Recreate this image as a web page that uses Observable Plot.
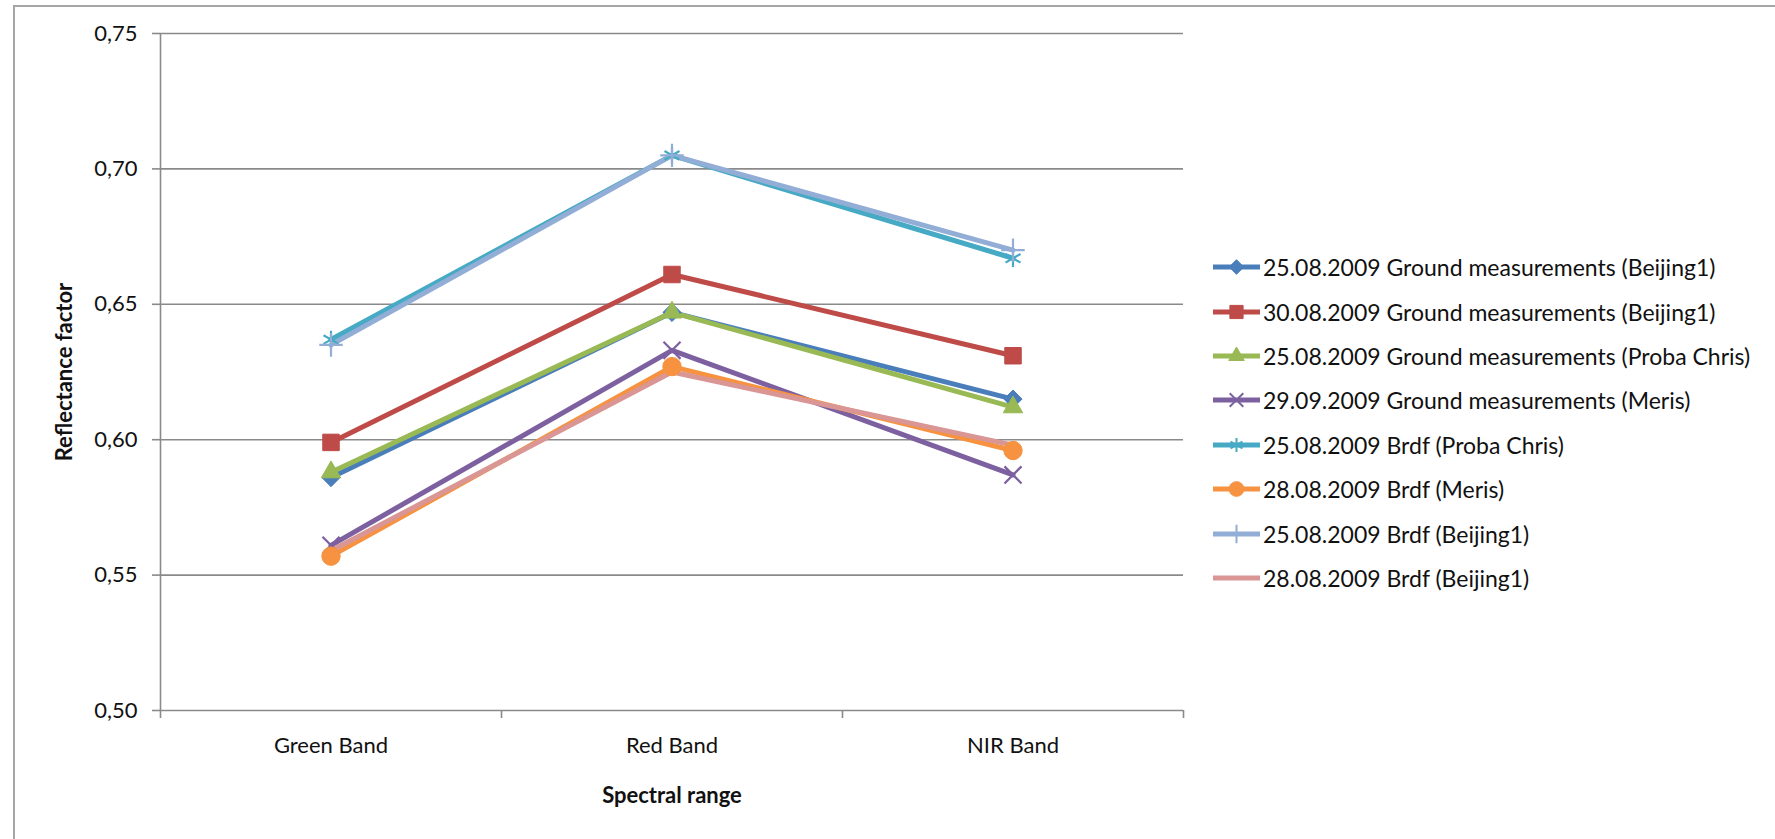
<!DOCTYPE html>
<html>
<head>
<meta charset="utf-8">
<script src="https://cdn.jsdelivr.net/npm/d3@7"></script>
<script src="https://cdn.jsdelivr.net/npm/@observablehq/plot@0.6"></script>
<style>
  html, body { margin: 0; padding: 0; background: #fff; }
  #wrap { position: relative; width: 1775px; height: 839px; overflow: hidden; font-family: Lato, "Open Sans", sans-serif; }
  #frame { position: absolute; left: 13px; top: 5px; width: 1800px; height: 900px; border-left: 2px solid #a6a6a6; border-top: 2px solid #a6a6a6; }
  #chart { position: absolute; left: 0; top: 0; }
  #legend { position: absolute; left: 1213px; top: 245px; }
  .row { display: flex; align-items: center; height: 44.4px; font-size: 23px; color: #111; white-space: nowrap; }
  .row svg { margin-right: 3px; overflow: visible; }
  g[aria-label="y-axis label"] text, g[aria-label="x-axis label"] text { font-weight: bold; }
</style>
</head>
<body>
<div id="wrap"><div id="frame"></div><div id="chart"></div><div id="legend"></div></div>
<script>
// ---- data ----
const categories = ["Green Band", "Red Band", "NIR Band"];
const seriesNames = [
  "25.08.2009 Ground measurements (Beijing1)",
  "30.08.2009 Ground measurements (Beijing1)",
  "25.08.2009 Ground measurements (Proba Chris)",
  "29.09.2009 Ground measurements (Meris)",
  "25.08.2009 Brdf (Proba Chris)",
  "28.08.2009 Brdf (Meris)",
  "25.08.2009 Brdf (Beijing1)",
  "28.08.2009 Brdf (Beijing1)"
];
const groundBeijing1_2508 = [0.586, 0.647, 0.615];
const groundBeijing1_3008 = [0.599, 0.661, 0.631];
const groundProbaChris_2508 = [0.588, 0.647, 0.612];
const groundMeris_2909 = [0.561, 0.633, 0.587];
const brdfProbaChris_2508 = [0.637, 0.705, 0.667];
const brdfMeris_2808 = [0.557, 0.627, 0.596];
const brdfBeijing1_2508 = [0.635, 0.705, 0.670];
const brdfBeijing1_2808 = [0.559, 0.625, 0.598];
const seriesValues = [groundBeijing1_2508, groundBeijing1_3008, groundProbaChris_2508, groundMeris_2909,
  brdfProbaChris_2508, brdfMeris_2808, brdfBeijing1_2508, brdfBeijing1_2808];
const yTicks = [0.50, 0.55, 0.60, 0.65, 0.70, 0.75];

// ---- styles ----
const seriesColors = ["#4A7EBB", "#BE4B48", "#98B954", "#7D60A0", "#46AAC5", "#F69240", "#93AED6", "#D99694"];
const seriesSymbols = ["diamond2", "square", "triangle", "times", "asterisk", "circle", "plus", null];
const symbolRadius = {diamond2: 8.2, square: 9.3, triangle: 7.2, times: 7.8, asterisk: 8.2, circle: 9.2, plus: 7.6};
const strokeSymbols = new Set(["times", "asterisk", "plus"]);
const d3Symbols = {diamond2: d3.symbolDiamond2, square: d3.symbolSquare, triangle: d3.symbolTriangle,
  times: d3.symbolTimes, asterisk: d3.symbolAsterisk, circle: d3.symbolCircle, plus: d3.symbolPlus};
const axisGray = "#8a8a8a";

const rows = [];
seriesNames.forEach((s, i) => seriesValues[i].forEach((v, j) => rows.push({series: s, cat: j, value: v})));

const fmt = d => d3.format(".2f")(d).replace(".", ",");

const dotMarks = seriesNames.map((s, i) => {
  const sym = seriesSymbols[i];
  if (!sym) return null;
  const isStroke = strokeSymbols.has(sym);
  return Plot.dot(rows.filter(d => d.series === s), {
    x: "cat", y: "value", symbol: () => sym, r: symbolRadius[sym],
    fill: isStroke ? "none" : seriesColors[i],
    stroke: seriesColors[i], strokeWidth: isStroke ? 2.2 : 1
  });
}).filter(Boolean);

const plot = Plot.plot({
  width: 1775, height: 839,
  marginLeft: 160, marginRight: 592, marginTop: 33, marginBottom: 129,
  style: {fontFamily: "Lato, 'Open Sans', sans-serif", fontSize: "22px", color: "#111", background: "transparent"},
  x: {type: "linear", domain: [-0.5, 2.5]},
  y: {domain: [0.5, 0.75]},
  symbol: {type: "identity"},
  color: {domain: seriesNames, range: seriesColors},
  marks: [
    Plot.gridY(yTicks, {stroke: axisGray, strokeOpacity: 1, strokeWidth: 1.6}),
    Plot.ruleX([-0.5], {stroke: axisGray, strokeWidth: 1.6}),
    Plot.axisY(yTicks, {tickFormat: fmt, tickSize: 8, tickPadding: 15, stroke: axisGray, strokeWidth: 1.6,
      label: "Reflectance factor", labelAnchor: "center", labelArrow: "none", labelOffset: 104}),
    Plot.axisX([-0.5, 0.5, 1.5, 2.5], {tickFormat: () => "", tickSize: 8, stroke: axisGray, strokeWidth: 1.6, label: null}),
    Plot.axisX([0, 1, 2], {tickFormat: i => categories[i], tickSize: 0, tickPadding: 27,
      label: "Spectral range", labelAnchor: "center", labelArrow: "none", labelOffset: 92}),
    Plot.line(rows, {x: "cat", y: "value", z: "series", stroke: "series", strokeWidth: 5,
      strokeLinejoin: "round", strokeLinecap: "round"}),
    ...dotMarks
  ]
});
document.getElementById("chart").appendChild(plot);

// ---- legend ----
const legend = d3.select("#legend");
seriesNames.forEach((s, i) => {
  const row = legend.append("div").attr("class", "row");
  const svg = row.append("svg").attr("width", 47).attr("height", 20);
  svg.append("line").attr("x1", 0).attr("x2", 47).attr("y1", 10).attr("y2", 10)
    .attr("stroke", seriesColors[i]).attr("stroke-width", 5);
  const sym = seriesSymbols[i];
  if (sym) {
    const isStroke = strokeSymbols.has(sym);
    const r = symbolRadius[sym] * 0.8;
    svg.append("path").attr("transform", "translate(23.5,10)")
      .attr("d", d3.symbol(d3Symbols[sym], Math.PI * r * r)())
      .attr("fill", isStroke ? "none" : seriesColors[i])
      .attr("stroke", seriesColors[i]).attr("stroke-width", isStroke ? 2 : 1);
  }
  row.append("span").text(s);
});
</script>
</body>
</html>
